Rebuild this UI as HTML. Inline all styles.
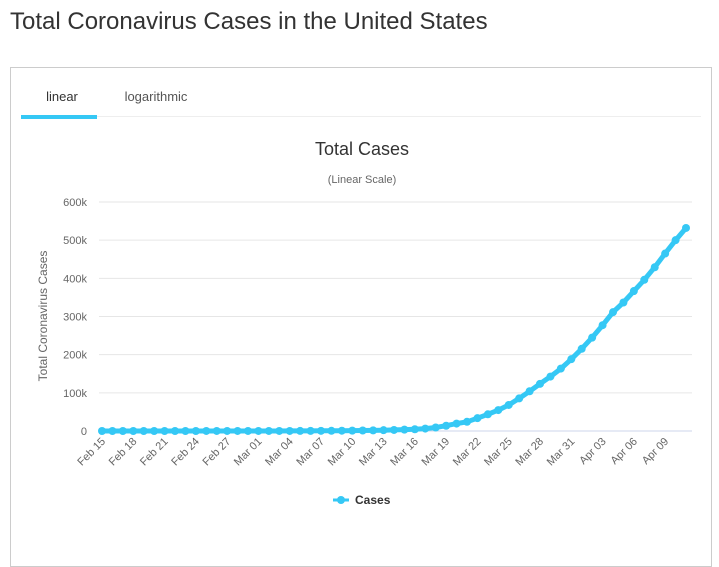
<!DOCTYPE html>
<html><head><meta charset="utf-8"><style>
body{margin:0;background:#fff;font-family:"Liberation Sans",sans-serif;width:719px;height:557px;overflow:hidden;position:relative}
h1{position:absolute;left:10px;top:8px;margin:0;font-size:24px;font-weight:normal;color:#333}
.panel{position:absolute;left:10px;top:67px;width:702px;height:500px;border:1px solid #ccc;box-sizing:border-box}
</style></head><body>
<h1>Total Coronavirus Cases in the United States</h1>
<div class="panel"></div>
<svg width="719" height="557" style="position:absolute;left:0;top:0" font-family="Liberation Sans, sans-serif">
<text x="62" y="101" font-size="13" fill="#333" text-anchor="middle">linear</text>
<text x="156" y="101" font-size="13" fill="#555" text-anchor="middle">logarithmic</text>
<line x1="21" y1="116.5" x2="701" y2="116.5" stroke="#eee"/>
<rect x="21" y="115" width="76" height="4" fill="#35c8f5"/>
<text x="362" y="155" font-size="18" fill="#333" text-anchor="middle">Total Cases</text>
<text x="362" y="183" font-size="11" fill="#666" text-anchor="middle">(Linear Scale)</text>
<text transform="translate(47,316) rotate(-90)" font-size="12" fill="#666" text-anchor="middle">Total Coronavirus Cases</text>
<g id="g"></g>
<circle cx="341" cy="500" r="4" fill="#35c8f5"/><rect x="333" y="498.5" width="16" height="3" fill="#35c8f5"/>
<text x="355" y="504" font-size="12" font-weight="bold" fill="#333">Cases</text>
</svg>
<script>
var d=[15,15,15,15,15,15,15,15,15,15,16,35,53,57,60,62,64,75,100,124,158,221,319,435,541,704,994,1301,1630,2183,2770,3613,4596,6344,9197,13779,19367,24192,33592,43781,54856,68211,85435,104126,123578,142538,163539,188172,215344,244678,277161,311357,336673,366667,396223,429052,465000,500000,532000];
d=d.slice(d.length-57);
var g=document.getElementById('g'),s='';
var x0=102,dx=(686-102)/56,y0=431,k=229/600000;
for(var i=0;i<=6;i++){var y=y0-i*100000*k;s+='<line x1="99" x2="692" y1="'+y+'" y2="'+y+'" stroke="'+(i?'#e6e6e6':'#ccd6eb')+'"/>';s+='<text x="87" y="'+(y+4)+'" font-size="11" fill="#666" text-anchor="end">'+(i?i*100+'k':'0')+'</text>';}
var labs=['Feb 15','Feb 18','Feb 21','Feb 24','Feb 27','Mar 01','Mar 04','Mar 07','Mar 10','Mar 13','Mar 16','Mar 19','Mar 22','Mar 25','Mar 28','Mar 31','Apr 03','Apr 06','Apr 09'];
for(var j=0;j<labs.length;j++){var x=x0+j*3*dx+4;s+='<text transform="translate('+x+',442) rotate(-45)" font-size="11" fill="#666" text-anchor="end">'+labs[j]+'</text>';}
var p='';for(var i=0;i<d.length;i++){p+=(i?'L':'M')+(x0+i*dx).toFixed(1)+' '+(y0-d[i]*k).toFixed(1);}
s+='<path d="'+p+'" fill="none" stroke="#35c8f5" stroke-width="5" stroke-linejoin="round"/>';
for(var i=0;i<d.length;i++)s+='<circle cx="'+(x0+i*dx)+'" cy="'+(y0-d[i]*k)+'" r="4" fill="#35c8f5"/>';
g.innerHTML=s;
</script>
</body></html>
